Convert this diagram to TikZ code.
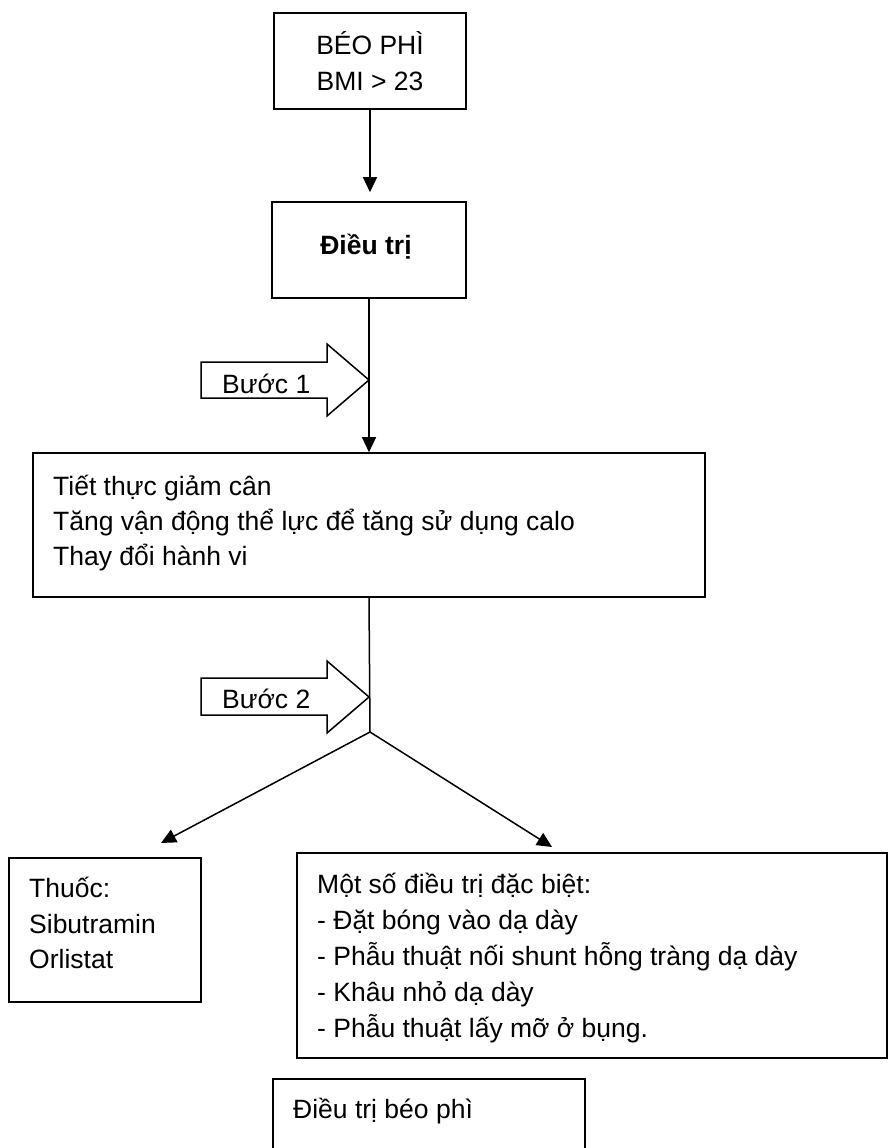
\documentclass[tikz,border=0pt]{standalone}
\usepackage{fontspec}
\setmainfont{Liberation Sans}
\usetikzlibrary{arrows.meta}
\begin{document}
\begin{tikzpicture}[x=1pt,y=-1pt,
  font=\fontsize{26.5}{35}\selectfont,
  box/.style={draw, line width=1.6pt, inner sep=0pt},
  txt/.style={anchor=base west, inner sep=0pt},
  conn/.style={line width=1.5pt, -{Triangle[width=14pt,length=15pt]}},
  plain/.style={line width=1.5pt},
  blockarrow/.style={draw, line width=1.5pt, fill=white, line join=miter}]
\clip (0,0) rectangle (888,1148);
\fill[white] (0,0) rectangle (888,1148);
% boxes
\node[box, minimum width=192pt, minimum height=96pt] (b1) at (370,61) {};
\node[box, minimum width=194pt, minimum height=96pt] (b2) at (369,250) {};
\node[box, minimum width=672pt, minimum height=144pt] (b3) at (369,525) {};
\node[box, minimum width=192pt, minimum height=144pt] (b4) at (105,930) {};
\node[box, minimum width=590pt, minimum height=205pt] (b5) at (592,955.5) {};
\node[box, minimum width=312pt, minimum height=102pt] (b6) at (429,1130) {};
% texts
\node[anchor=base, inner sep=0pt] (t1a) at (370,55) {BÉO PHÌ};
\node[anchor=base, inner sep=0pt] (t1b) at (370,90) {BMI > 23};
\node[anchor=base, inner sep=0pt, font=\fontsize{26.5}{35}\selectfont\bfseries] (t2) at (366,254) {Điều trị};
\node[txt] (t3a) at (53,495) {Tiết thực giảm cân};
\node[txt] (t3b) at (53,530) {Tăng vận động thể lực để tăng sử dụng calo};
\node[txt] (t3c) at (53,565) {Thay đổi hành vi};
\node[txt] (t4a) at (29,897) {Thuốc:};
\node[txt] (t4b) at (29,933) {Sibutramin};
\node[txt] (t4c) at (29,968) {Orlistat};
\node[txt] (t5a) at (317,893) {Một số điều trị đặc biệt:};
\node[txt] (t5b) at (317,929) {- Đặt bóng vào dạ dày};
\node[txt] (t5c) at (317,965) {- Phẫu thuật nối shunt hỗng tràng dạ dày};
\node[txt] (t5d) at (317,1001) {- Khâu nhỏ dạ dày};
\node[txt] (t5e) at (317,1037) {- Phẫu thuật lấy mỡ ở bụng.};
\node[txt] (t6) at (293,1118) {Điều trị béo phì};
% connectors
\coordinate (br) at (370,732);
\coordinate (lt) at (161,843);
\coordinate (rt) at (552,847);
\draw[conn, shorten >=9pt] (b1.south) -- (b2.north -| b1.south);
\draw[conn] (b2.south) -- (b3.north);
\draw[plain] (b3.south) -- (br);
\draw[conn] (br) -- (lt);
\draw[conn] (br) -- (rt);
% block arrows
\draw[blockarrow] (201,362) -- (327,362) -- (327,344) -- (369,380) -- (327,416) -- (327,398) -- (201,398) -- cycle;
\node[txt] (s1) at (222,393) {Bước 1};
\draw[blockarrow] (201,678) -- (327,678) -- (327,661) -- (369,697) -- (327,733) -- (327,715) -- (201,715) -- cycle;
\node[txt] (s2) at (222,708) {Bước 2};
\end{tikzpicture}
\end{document}
